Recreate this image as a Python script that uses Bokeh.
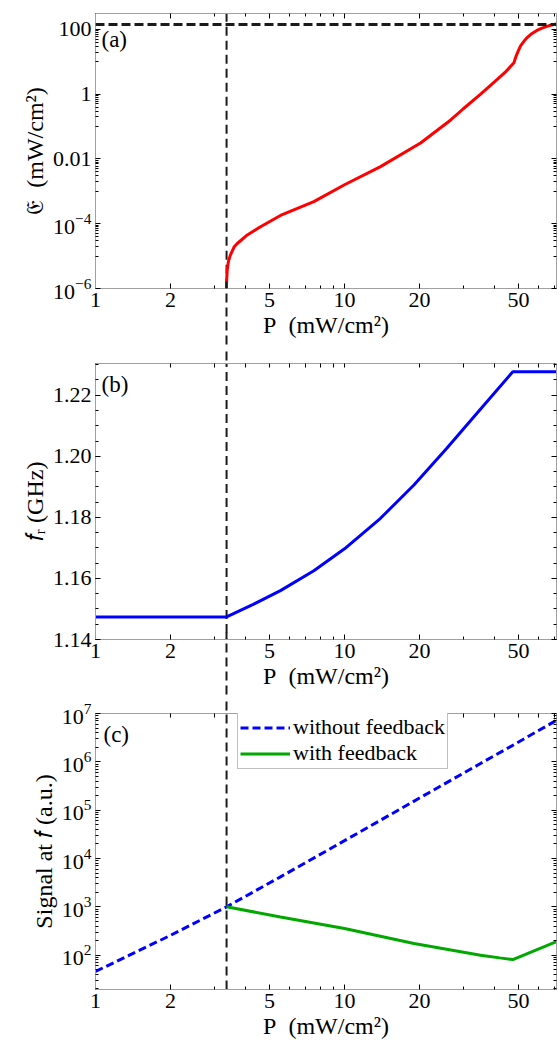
import math
from bokeh.plotting import figure
from bokeh.models import (FixedTicker, LogAxis, LinearAxis, Label, Whisker, Span,
                          Legend, LegendItem, LogTickFormatter, Range1d,
                          CustomJSTickFormatter, ColumnDataSource)
from bokeh.layouts import column
from bokeh.embed import file_html
from bokeh.resources import INLINE

FONT = "Liberation Serif"

# ---------------- data ----------------
P_thr = 3.36          # threshold pump power (vertical dashed line)
E_level = 143.0       # horizontal dashed level in panel (a)

# panel (a): E vs P
P_a = [3.35, 3.36, 3.38, 3.42, 3.48, 3.6, 3.71, 4.07, 4.6, 5.53, 7.53, 10.0,
       13.95, 20.2, 26.7, 30.0, 35.2, 40.0, 44.0, 47.9, 48.3, 49.0, 50.0, 51.0,
       52.5, 54.0, 56.0, 59.0, 62.0, 66.0, 71.0]
E_a = [5e-7, 1.6e-6, 3.7e-6, 7e-6, 1.07e-5, 1.9e-5, 2.45e-5, 4.5e-5, 8.1e-5,
       1.8e-4, 4.8e-4, 1.6e-3, 5.8e-3, 3.1e-2, 0.16, 0.355, 1.0, 2.4, 4.6, 9.3,
       11.5, 15.8, 22.9, 31.6, 42.7, 55.0, 70.8, 91.2, 110.0, 129.0, 148.0]

# panel (b): f_r vs P
P_b = [1.0, 3.36, 4.3, 5.53, 7.53, 10.0, 13.95, 19.0, 25.8, 35.2, 47.4, 71.0]
fr_b = [1.1474, 1.1474, 1.1515, 1.1560, 1.1625, 1.1697, 1.1797, 1.1906,
        1.2027, 1.2155, 1.2277, 1.2277]

# panel (c): signal vs P
P_wo = [1.0, 2.0, 3.36, 5.53, 10.0, 20.0, 35.0, 50.0, 71.0]
S_wo = [46.0, 257.0, 1000.0, 4170.0, 23400.0, 178000.0, 912000.0, 2570000.0, 7240000.0]
P_w = [3.36, 5.53, 10.0, 19.0, 35.2, 42.0, 47.4, 71.0]
S_w = [1000.0, 617.0, 355.0, 174.0, 100.0, 88.0, 81.0, 190.0]

x_major = [1, 2, 5, 10, 20, 50]
x_minor = [3, 4, 6, 7, 8, 9, 30, 40, 60, 70]

ya_major = [1e-6, 1e-4, 1e-2, 1.0, 100.0]
yb_major = [1.14, 1.16, 1.18, 1.20, 1.22]
yc_major = [1e2, 1e3, 1e4, 1e5, 1e6, 1e7]

x_label = "P\u00a0\u00a0(mW/cm²)"

W = 557
DASH_V = "9 5"
DASH_COLOR = "#1a1a1a"
EMPTY = "return ''"


def make_fig(height, top, bottom, y_type, y_range):
    p = figure(width=W, height=height, x_axis_type="log", y_axis_type=y_type,
               x_range=Range1d(1, 71), y_range=y_range, output_backend="svg",
               toolbar_location=None, min_border_left=95, min_border_right=1,
               min_border_top=top, min_border_bottom=bottom)
    p.grid.visible = False
    p.outline_line_color = "#a0a0a0"
    p.outline_line_width = 1
    return p


def style_axis(ax):
    ax.axis_line_color = "#a0a0a0"
    ax.axis_line_width = 1
    ax.major_tick_line_color = "black"
    ax.minor_tick_line_color = "black"
    ax.major_tick_in = 5
    ax.major_tick_out = 0
    ax.minor_tick_in = 3
    ax.minor_tick_out = 0
    ax.major_label_text_font = FONT
    ax.major_label_text_font_size = "22px"
    ax.major_label_text_color = "black"
    ax.major_label_standoff = 4
    ax.axis_label_text_font = FONT
    ax.axis_label_text_font_size = "24px"
    ax.axis_label_text_font_style = "normal"
    ax.axis_label_text_color = "black"
    ax.axis_label_standoff = 2


def silent(ax):
    ax.formatter = CustomJSTickFormatter(code=EMPTY)
    ax.major_label_text_font_size = "1px"
    ax.major_label_standoff = 0
    ax.axis_label = None


def mirror(ax):
    style_axis(ax)
    silent(ax)


x_ticker = FixedTicker(ticks=x_major, minor_ticks=x_minor)


def setup_x(p, dashed_top=False, dashed_below=None):
    ax = p.xaxis[0]
    ax.ticker = x_ticker
    style_axis(ax)
    ax.axis_label = x_label
    if dashed_top:
        # mirrored x ticks on top + the threshold line running up through the gap
        top = LogAxis(ticker=FixedTicker(ticks=[P_thr], minor_ticks=x_major + x_minor))
        style_axis(top)
        silent(top)
        top.minor_tick_in = 4
        top.major_tick_in = 0
        top.major_tick_out = 12
        top.major_tick_line_color = DASH_COLOR
        top.major_tick_line_width = 2
        top.major_tick_line_dash = DASH_V
        p.add_layout(top, "above")
    else:
        top = LogAxis(ticker=x_ticker)
        mirror(top)
        p.add_layout(top, "above")
    if dashed_below is not None:
        tin, tout = dashed_below
        ext = LogAxis(ticker=FixedTicker(ticks=[P_thr], minor_ticks=[]))
        silent(ext)
        ext.axis_line_color = None
        ext.minor_tick_line_color = None
        ext.major_tick_in = tin
        ext.major_tick_out = tout
        ext.major_tick_line_color = DASH_COLOR
        ext.major_tick_line_width = 2
        ext.major_tick_line_dash = DASH_V
        p.add_layout(ext, "below")


def vline(p, y0, y1):
    src = ColumnDataSource(dict(base=[P_thr], lower=[y1], upper=[y0]))
    p.add_layout(Whisker(source=src, base="base", lower="lower", upper="upper",
                         dimension="height", lower_head=None, upper_head=None,
                         line_dash=DASH_V, line_width=2, line_color=DASH_COLOR))


def panel_label(p, txt, x, y):
    p.add_layout(Label(x=x, y=y, x_units="screen", y_units="screen", text=txt,
                       text_font=FONT, text_font_size="23px", text_baseline="top",
                       text_align="left", text_color="black"))


# ---------------- panel (a) ----------------
pa = make_fig(350, 13, 62, "log", Range1d(1e-6, 310))
setup_x(pa, dashed_top=False, dashed_below=(59, 4))
ya_minor = [k * 10.0 ** e for e in (-5, -3, -1, 1) for k in range(1, 10)]
ya_ticker = FixedTicker(ticks=ya_major, minor_ticks=ya_minor)
ay = pa.yaxis[0]
ay.ticker = ya_ticker
ay.formatter = LogTickFormatter(min_exponent=3)
style_axis(ay)
ay.axis_label = "𝔈\u00a0\u00a0(mW/cm²)"
ra = LogAxis(ticker=ya_ticker)
mirror(ra)
pa.add_layout(ra, "right")
pa.line(P_a, E_a, line_color="#ff0000", line_width=3)
pa.add_layout(Span(location=E_level, dimension="width", line_dash="9 4",
                   line_width=3, line_color=DASH_COLOR))
vline(pa, 310, 1e-9)
panel_label(pa, "(a)", 6, 262)

# ---------------- panel (b) ----------------
pb = make_fig(350, 13, 61, "linear", Range1d(1.14, 1.2304))
setup_x(pb, dashed_top=True, dashed_below=(59, 3))
yb_minor = [round(1.14 + 0.005 * i, 3) for i in range(0, 19)]
yb_ticker = FixedTicker(ticks=yb_major, minor_ticks=yb_minor)
by = pb.yaxis[0]
by.ticker = yb_ticker
by.formatter = CustomJSTickFormatter(code="return tick.toFixed(2)")
style_axis(by)
by.axis_label = "𝑓ᵣ (GHz)"
rb = LinearAxis(ticker=yb_ticker)
mirror(rb)
pb.add_layout(rb, "right")
pb.line(P_b, fr_b, line_color="#0000ff", line_width=3)
vline(pb, 1.3, 1.0)
panel_label(pb, "(b)", 6, 268)

# ---------------- panel (c) ----------------
pc = make_fig(347, 13, 58, "log", Range1d(19.5, 1e7))
setup_x(pc, dashed_top=True, dashed_below=None)
yc_minor = [k * 10.0 ** e for e in range(1, 7) for k in range(2, 10)]
yc_ticker = FixedTicker(ticks=yc_major, minor_ticks=yc_minor)
cy = pc.yaxis[0]
cy.ticker = yc_ticker
cy.formatter = LogTickFormatter()
style_axis(cy)
cy.axis_label = "Signal at 𝑓 (a.u.)"
rc = LogAxis(ticker=yc_ticker)
mirror(rc)
pc.add_layout(rc, "right")
r_wo = pc.line(P_wo, S_wo, line_color="#0000ff", line_width=3, line_dash="8 4")
r_w = pc.line(P_w, S_w, line_color="#00a800", line_width=3)
vline(pc, 1e9, 19.5)
panel_label(pc, "(c)", 8, 268)

legend = Legend(items=[LegendItem(label="without feedback", renderers=[r_wo]),
                       LegendItem(label="with feedback", renderers=[r_w])],
                location=(142, 220), orientation="vertical",
                label_text_font=FONT, label_text_font_size="22px",
                label_text_color="black",
                border_line_color="#808080", border_line_width=1,
                background_fill_color="white", background_fill_alpha=1,
                padding=2, spacing=0, margin=0, glyph_width=50, glyph_height=21,
                label_height=21, label_standoff=3)
pc.add_layout(legend)

layout = column(pa, pb, pc, spacing=0)
open("out.html", "w").write(file_html(layout, INLINE))
